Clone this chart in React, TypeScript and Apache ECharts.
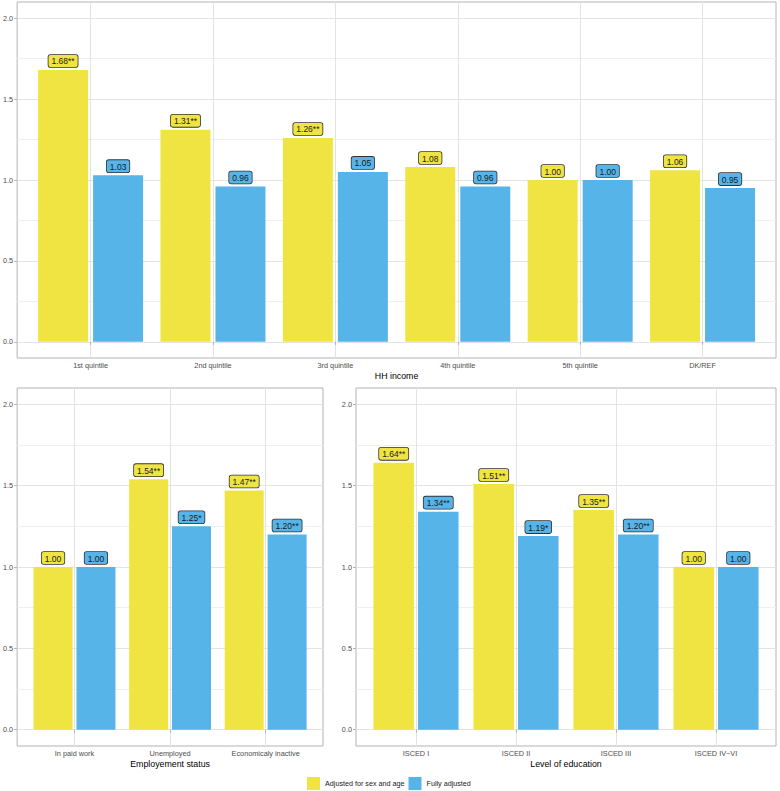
import React, { useEffect, useRef } from "react";
import * as echarts from "echarts";

const incomeCats = ["1st quintile", "2nd quintile", "3rd quintile", "4th quintile", "5th quintile", "DK/REF"];
const incomeAdj = [1.68, 1.31, 1.26, 1.08, 1.0, 1.06];
const incomeAdjLbl = ["1.68**", "1.31**", "1.26**", "1.08", "1.00", "1.06"];
const incomeFull = [1.03, 0.96, 1.05, 0.96, 1.0, 0.95];
const incomeFullLbl = ["1.03", "0.96", "1.05", "0.96", "1.00", "0.95"];

const empCats = ["In paid work", "Unemployed", "Economicaly inactive"];
const empAdj = [1.0, 1.54, 1.47];
const empAdjLbl = ["1.00", "1.54**", "1.47**"];
const empFull = [1.0, 1.25, 1.2];
const empFullLbl = ["1.00", "1.25*", "1.20**"];

const eduCats = ["ISCED I", "ISCED II", "ISCED III", "ISCED IV\u2212VI"];
const eduAdj = [1.64, 1.51, 1.35, 1.0];
const eduAdjLbl = ["1.64**", "1.51**", "1.35**", "1.00"];
const eduFull = [1.34, 1.19, 1.2, 1.0];
const eduFullLbl = ["1.34**", "1.19*", "1.20**", "1.00"];

const yTicks = [0, 0.5, 1, 1.5, 2];
const seriesNames = ["Adjusted for sex and age", "Fully adjusted"];
const colors = ["#F0E442", "#56B4E9"];

const FONT = "Liberation Sans, Arial, Helvetica, sans-serif";

export default function App() {
  const ref = useRef<HTMLDivElement>(null);

  useEffect(() => {
    document.body.style.margin = "0";
    if (!ref.current) return;
    const chart = echarts.init(ref.current, undefined, { renderer: "svg" });

    const panels = [
      { grid: { left: 15, top: 2, width: 761, height: 356 }, cats: incomeCats, adj: incomeAdj, adjLbl: incomeAdjLbl, full: incomeFull, fullLbl: incomeFullLbl, title: "HH income", barWidth: 50 },
      { grid: { left: 15, top: 388, width: 308, height: 358 }, cats: empCats, adj: empAdj, adjLbl: empAdjLbl, full: empFull, fullLbl: empFullLbl, title: "Employement status", barWidth: 39 },
      { grid: { left: 356, top: 388, width: 420, height: 358 }, cats: eduCats, adj: eduAdj, adjLbl: eduAdjLbl, full: eduFull, fullLbl: eduFullLbl, title: "Level of education", barWidth: 40.5 },
    ];

    const grids: any[] = [];
    const xAxes: any[] = [];
    const yAxes: any[] = [];
    const series: any[] = [];

    panels.forEach((p, i) => {
      const n = p.cats.length;
      const xVals = p.cats.map((_, k) => k + 1);
      grids.push({ ...p.grid, show: true, borderColor: "#b3b3b3", borderWidth: 1, backgroundColor: "transparent" });
      xAxes.push({
        type: "value",
        gridIndex: i,
        min: 0.4,
        max: n + 0.6,
        splitNumber: n,
        minInterval: 1,
        maxInterval: 1,
        axisLine: { show: false },
        axisTick: { show: true, customValues: xVals, length: 3, lineStyle: { color: "#b3b3b3" } },
        axisLabel: {
          customValues: xVals,
          formatter: (v: number) => p.cats[Math.round(v) - 1] ?? "",
          fontSize: 7.3,
          color: "#4d4d4d",
          margin: 4,
          fontFamily: FONT,
        },
        splitLine: { show: true, lineStyle: { color: "#e3e3e3", width: 1 } },
        name: p.title,
        nameLocation: "middle",
        nameGap: 13,
        nameTextStyle: { fontSize: 8.8, color: "#000", fontFamily: FONT },
      });
      yAxes.push({
        type: "value",
        gridIndex: i,
        min: -0.1,
        max: 2.1,
        axisLine: { show: false },
        axisTick: { show: true, customValues: yTicks, length: 3, lineStyle: { color: "#b3b3b3" } },
        axisLabel: {
          customValues: yTicks,
          formatter: (v: number) => v.toFixed(1),
          fontSize: 7.3,
          color: "#4d4d4d",
          margin: 4,
          fontFamily: FONT,
        },
        splitLine: { show: true, lineStyle: { color: "#e3e3e3", width: 1 } },
        minorTick: { show: false, splitNumber: 2 },
        minorSplitLine: { show: true, lineStyle: { color: "#efefef", width: 1 } },
      });
      const mk = (vals: number[], lbls: string[], si: number) => ({
        type: "bar",
        name: seriesNames[si],
        xAxisIndex: i,
        yAxisIndex: i,
        data: vals.map((v, k) => [k + 1, v]),
        barWidth: p.barWidth,
        barGap: "10%",
        itemStyle: { color: colors[si] },
        label: {
          show: true,
          position: "top",
          distance: 3,
          formatter: (prm: any) => lbls[prm.dataIndex],
          backgroundColor: colors[si],
          borderColor: "#333333",
          borderWidth: 0.8,
          borderRadius: 2,
          padding: [2, 3, 1, 3],
          fontSize: 8.5,
          color: "#1a1a1a",
          fontFamily: FONT,
        },
      });
      series.push(mk(p.adj, p.adjLbl, 0));
      series.push(mk(p.full, p.fullLbl, 1));
    });

    chart.setOption({
      animation: false,
      textStyle: { fontFamily: FONT },
      grid: grids,
      xAxis: xAxes,
      yAxis: yAxes,
      series,
      legend: {
        data: seriesNames,
        left: 307,
        top: 777,
        icon: "rect",
        itemWidth: 13,
        itemHeight: 13,
        itemGap: 4,
        padding: 0,
        textStyle: { fontSize: 7.2, color: "#1a1a1a", fontFamily: FONT },
      },
    });

    return () => chart.dispose();
  }, []);

  return <div ref={ref} style={{ width: 780, height: 791 }} />;
}
